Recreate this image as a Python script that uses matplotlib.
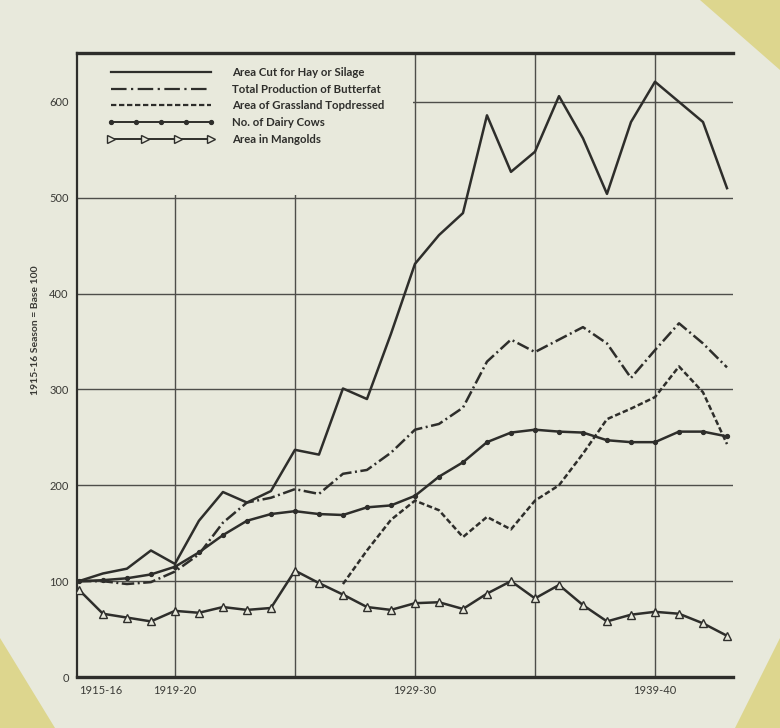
"""Index chart: dairy production indicators, 1915-16 season = base 100."""

import matplotlib.pyplot as plt
from matplotlib.patches import Polygon, Rectangle
from matplotlib.lines import Line2D
from matplotlib.legend_handler import HandlerLine2D

# seasons 1915-16 .. 1942-43, one value per season
seasons = [f"{y}-{str(y + 1)[-2:]}" for y in range(1915, 1943)]

hay_silage = [100, 108, 113, 132, 118, 163, 193, 182, 194, 237, 232, 301, 290, 358,
              431, 461, 484, 586, 527, 548, 606, 562, 504, 579, 621, 600, 579, 510]
butterfat = [100, 100, 97, 99, 110, 128, 161, 182, 187, 196, 191, 212, 216, 234,
             258, 264, 281, 329, 352, 339, 352, 365, 348, 312, 341, 369, 348, 323]
topdressed = [None] * 11 + [97, 132, 164, 184, 174, 146, 167, 154, 184, 200, 233,
                            269, 280, 292, 324, 297, 243]
dairy_cows = [100, 101, 103, 107, 115, 130, 148, 163, 170, 173, 170, 169, 177, 179,
              189, 209, 224, 245, 255, 258, 256, 255, 247, 245, 245, 256, 256, 251]
mangolds = [91, 66, 62, 58, 69, 67, 73, 70, 72, 111, 98, 86, 73, 70,
            77, 78, 71, 87, 100, 82, 96, 75, 58, 65, 68, 66, 56, 43]

labels = ["Area Cut for Hay or Silage", "Total Production of Butterfat",
          "Area of Grassland Topdressed", "No. of Dairy Cows", "Area in Mangolds"]

tick_seasons = ["1915-16", "1919-20", "1924-25", "1929-30", "1934-35", "1939-40"]
tick_text = ["1915-16", "1919-20", "", "1929-30", "", "1939-40"]

paper = "#e8e9dc"
ink = "#2e2e2b"
plt.rcParams["font.family"] = ["Lato", "DejaVu Sans"]

fig = plt.figure(figsize=(7.8, 7.28), dpi=100, facecolor=paper)
ax = fig.add_axes([77 / 780, 1 - 677 / 728, 656 / 780, 624 / 728], facecolor=paper)

x = list(range(len(seasons)))
lw = 1.8
ax.plot(x, hay_silage, color=ink, lw=lw, zorder=3)
ax.plot(x, butterfat, color=ink, lw=lw, ls=(0, (5, 1.4, 0.8, 1.4)), zorder=3)
ax.plot(x, topdressed, color=ink, lw=lw, ls=(0, (2.2, 1.1)), zorder=3)
ax.plot(x, dairy_cows, color=ink, lw=lw, marker="o", ms=2.8, zorder=3)
ax.plot(x, mangolds, color=ink, lw=lw, marker="^", ms=5.5, mfc=paper,
        mec=ink, mew=1.0, zorder=3)

ax.set_xlim(-0.08, 27.25)
ax.set_ylim(0, 651)

# grid
for v in [100, 200, 300, 400, 500, 600]:
    ax.axhline(v, color="#4e4e4a", lw=1.0, zorder=1)
for s in tick_seasons[1:]:
    ax.axvline(seasons.index(s), color="#4e4e4a", lw=1.0, zorder=1)
# legend area is clear of grid lines
ax.add_patch(Rectangle((-0.1, 503), 14.0, 160, facecolor=paper, edgecolor="none",
                       zorder=1.5))

ax.set_yticks([0, 100, 200, 300, 400, 500, 600])
ax.set_xticks([seasons.index(s) for s in tick_seasons])
ax.set_xticklabels(tick_text)
ax.tick_params(length=0, labelsize=8, colors="#3a3a36", pad=6)
ax.get_xticklabels()[0].set_horizontalalignment("left")

ax.spines["right"].set_visible(False)
ax.spines["left"].set_linewidth(1.6)
ax.spines["bottom"].set_linewidth(2.4)
ax.spines["top"].set_linewidth(2.4)
for side in ["left", "bottom", "top"]:
    ax.spines[side].set_color(ink)

fig.text(36 / 780, 1 - 330 / 728, "1915-16 Season = Base 100", rotation=90,
         ha="center", va="center", fontsize=7.5, fontweight="bold", color="#3a3a36")

handles = [
    Line2D([], [], color=ink, lw=1.6),
    Line2D([], [], color=ink, lw=1.6, ls=(0, (7, 2, 1, 2))),
    Line2D([], [], color=ink, lw=1.6, ls=(0, (2.4, 1.2))),
    Line2D([], [], color=ink, lw=1.4, marker="o", ms=2.8),
    Line2D([], [], color=ink, lw=1.4, marker=">", ms=5.5, mfc=paper, mew=1.0),
]
leg = ax.legend(handles, labels, loc="upper left", bbox_to_anchor=(0.04, 0.985),
                frameon=False, handlelength=9.4, handletextpad=1.5, labelspacing=0.5,
                borderaxespad=0, numpoints=5,
                handler_map={handles[4]: HandlerLine2D(numpoints=4)},
                prop={"size": 8.2, "weight": "bold"})
for t in leg.get_texts():
    t.set_color(ink)

# yellow tape in the corners of the photo
tape = "#ddd68e"
fig.patches.append(Polygon([(700 / 780, 1), (1, 1), (1, 1 - 70 / 728)],
                           transform=fig.transFigure, facecolor=tape, edgecolor="none"))
fig.patches.append(Polygon([(0, 90 / 728), (0, 0), (55 / 780, 0)],
                           transform=fig.transFigure, facecolor=tape, edgecolor="none"))
fig.patches.append(Polygon([(1, 90 / 728), (1, 0), (735 / 780, 0)],
                           transform=fig.transFigure, facecolor=tape, edgecolor="none"))

fig.savefig("out.png", dpi=100, facecolor=paper)
